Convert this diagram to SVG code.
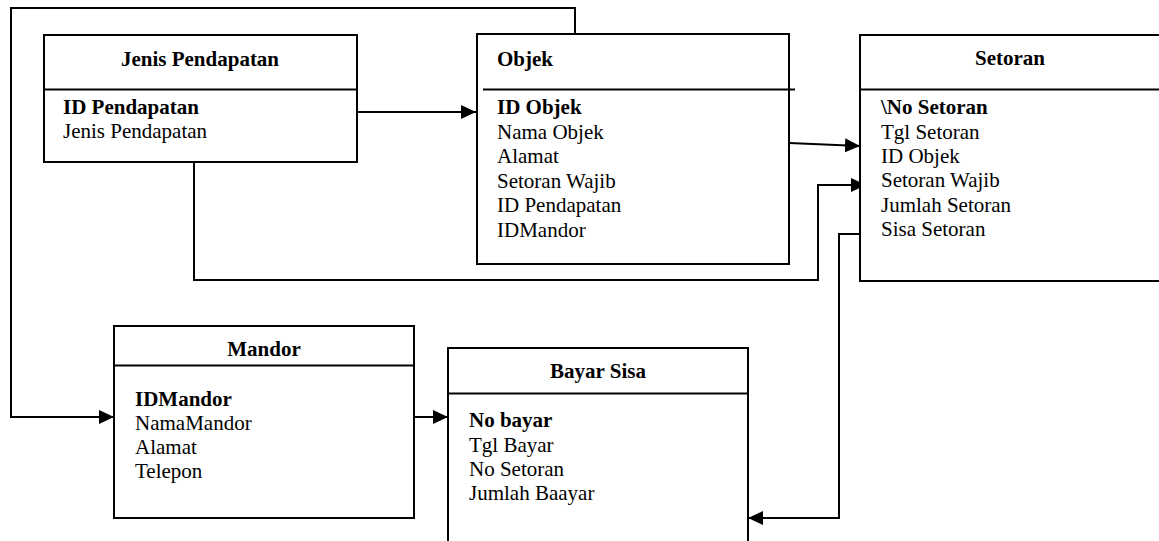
<svg xmlns="http://www.w3.org/2000/svg" width="1159" height="541" viewBox="0 0 1159 541">
<style>
.box{fill:#fff;stroke:#000;stroke-width:2}
.div{stroke:#000;stroke-width:2}
.c{fill:none;stroke:#000;stroke-width:2}
text{font-family:"Liberation Serif","Times New Roman",serif;font-size:21px;fill:#000}
.h{font-weight:bold;text-anchor:middle}
.hl{font-weight:bold}
.b{font-weight:bold}
</style>
<defs>
<marker id="ah" markerUnits="userSpaceOnUse" markerWidth="16" markerHeight="14" refX="15" refY="7" orient="auto">
<path d="M0,0 L15,7 L0,14 Z" fill="#000"/>
</marker>
</defs>
<rect width="1159" height="541" fill="#fff"/>
<g id="connectors">
<path class="c" d="M357,112 H476" marker-end="url(#ah)"/>
<path class="c" d="M789,143 L860,146" marker-end="url(#ah)"/>
<path class="c" d="M194,162 V280 H818 V185 H866" marker-end="url(#ah)"/>
<path class="c" d="M575,34 V8 H11 V417 H114" marker-end="url(#ah)"/>
<path class="c" d="M414,417 H448" marker-end="url(#ah)"/>
<path class="c" d="M860,234 H839 V518 H748" marker-end="url(#ah)"/>
</g>
<g id="jenis-pendapatan">
<rect class="box" x="44" y="35" width="313" height="127"/>
<line class="div" x1="44" y1="89.5" x2="357" y2="89.5"/>
<text class="h" x="200" y="66">Jenis Pendapatan</text>
<text class="b" x="63" y="114">ID Pendapatan</text>
<text x="63" y="138">Jenis Pendapatan</text>
</g>
<g id="objek">
<rect class="box" x="477" y="34" width="312" height="230"/>
<line class="div" x1="483" y1="89.5" x2="795" y2="89.5"/>
<text class="hl" x="497" y="66">Objek</text>
<text class="b" x="497" y="114">ID Objek</text>
<text x="497" y="138.5">Nama Objek</text>
<text x="497" y="163">Alamat</text>
<text x="497" y="187.5">Setoran Wajib</text>
<text x="497" y="212">ID Pendapatan</text>
<text x="497" y="236.5">IDMandor</text>
</g>
<g id="setoran">
<rect class="box" x="860" y="35" width="310" height="246"/>
<line class="div" x1="860" y1="89.5" x2="1170" y2="89.5"/>
<text class="h" x="1010" y="65">Setoran</text>
<text class="b" x="881" y="114">\No Setoran</text>
<text x="881" y="138.5">Tgl Setoran</text>
<text x="881" y="163">ID Objek</text>
<text x="881" y="187">Setoran Wajib</text>
<text x="881" y="211.5">Jumlah Setoran</text>
<text x="881" y="236">Sisa Setoran</text>
</g>
<g id="mandor">
<rect class="box" x="114" y="326" width="300" height="192"/>
<line class="div" x1="114" y1="365.5" x2="414" y2="365.5"/>
<text class="h" x="264" y="356">Mandor</text>
<text class="b" x="135" y="406">IDMandor</text>
<text x="135" y="430">NamaMandor</text>
<text x="135" y="454">Alamat</text>
<text x="135" y="478">Telepon</text>
</g>
<g id="bayar-sisa">
<rect class="box" x="448" y="348" width="300" height="205"/>
<line class="div" x1="448" y1="393.5" x2="748" y2="393.5"/>
<text class="h" x="598" y="378">Bayar Sisa</text>
<text class="b" x="469" y="427">No bayar</text>
<text x="469" y="451.5">Tgl Bayar</text>
<text x="469" y="476">No Setoran</text>
<text x="469" y="500">Jumlah Baayar</text>
</g>
</svg>
